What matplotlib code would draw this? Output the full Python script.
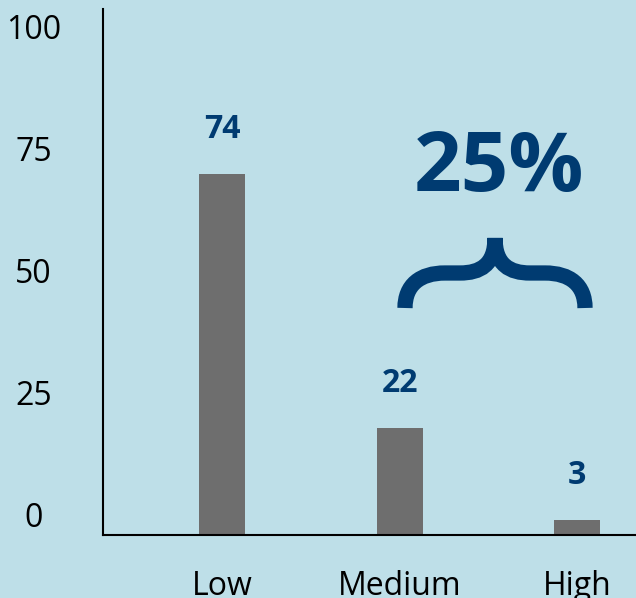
import matplotlib.pyplot as plt
from matplotlib.path import Path
from matplotlib.patches import PathPatch

categorias = ['Low', 'Medium', 'High']
valores = [74, 22, 3]
yticks = [0, 25, 50, 75, 100]

fundo = '#BEDFE8'
azul = '#003B71'
cinza = '#6E6E6E'

plt.rcParams['font.family'] = ['Open Sans', 'DejaVu Sans']

fig = plt.figure(figsize=(6.36, 5.98), dpi=100, facecolor=fundo)
ax = fig.add_axes([103 / 636, 1 - 535 / 598, 533 / 636, 526 / 598], facecolor=fundo)

x = range(len(categorias))
barras = ax.bar(x, valores, width=0.26, color=cinza)

for b, v in zip(barras, valores):
    ax.annotate(str(v), (b.get_x() + b.get_width() / 2, v), xytext=(0, 26),
                textcoords='offset points', ha='center', va='baseline',
                fontsize=23, fontweight='bold', color=azul)

ax.set_xlim(-0.67, 2.33)
ax.set_ylim(0, 107.8)
ax.set_xticks(list(x))
ax.set_xticklabels(categorias, fontsize=23)
ax.set_yticks(yticks)
ax.set_yticklabels([str(t) for t in yticks], fontsize=23, ha='center', va='bottom')
ax.tick_params(axis='y', length=0, pad=50)
ax.tick_params(axis='x', length=0, pad=25)

for s in ['top', 'right']:
    ax.spines[s].set_visible(False)
for s in ['left', 'bottom']:
    ax.spines[s].set_linewidth(1.5)
    ax.spines[s].set_color('black')

# chave e percentual
fig.text(499 / 636, 1 - 170 / 598, '25%', fontsize=60, fontweight='bold',
         color=azul, ha='center', va='center')

pts = [(405, 308), (405, 285), (420, 273), (445, 273), (460, 273),
       (480, 273), (495, 265), (495, 238),
       (495, 265), (510, 273), (530, 273), (545, 273),
       (570, 273), (585, 285), (585, 308)]
codes = [Path.MOVETO, Path.CURVE4, Path.CURVE4, Path.CURVE4, Path.LINETO,
         Path.CURVE4, Path.CURVE4, Path.CURVE4,
         Path.CURVE4, Path.CURVE4, Path.CURVE4, Path.LINETO,
         Path.CURVE4, Path.CURVE4, Path.CURVE4]
verts = [(px / 636, 1 - py / 598) for px, py in pts]
chave = PathPatch(Path(verts, codes), transform=fig.transFigure, fill=False,
                  edgecolor=azul, linewidth=11, capstyle='butt', joinstyle='miter')
fig.add_artist(chave)

fig.savefig('out.png', dpi=100, facecolor=fundo)
